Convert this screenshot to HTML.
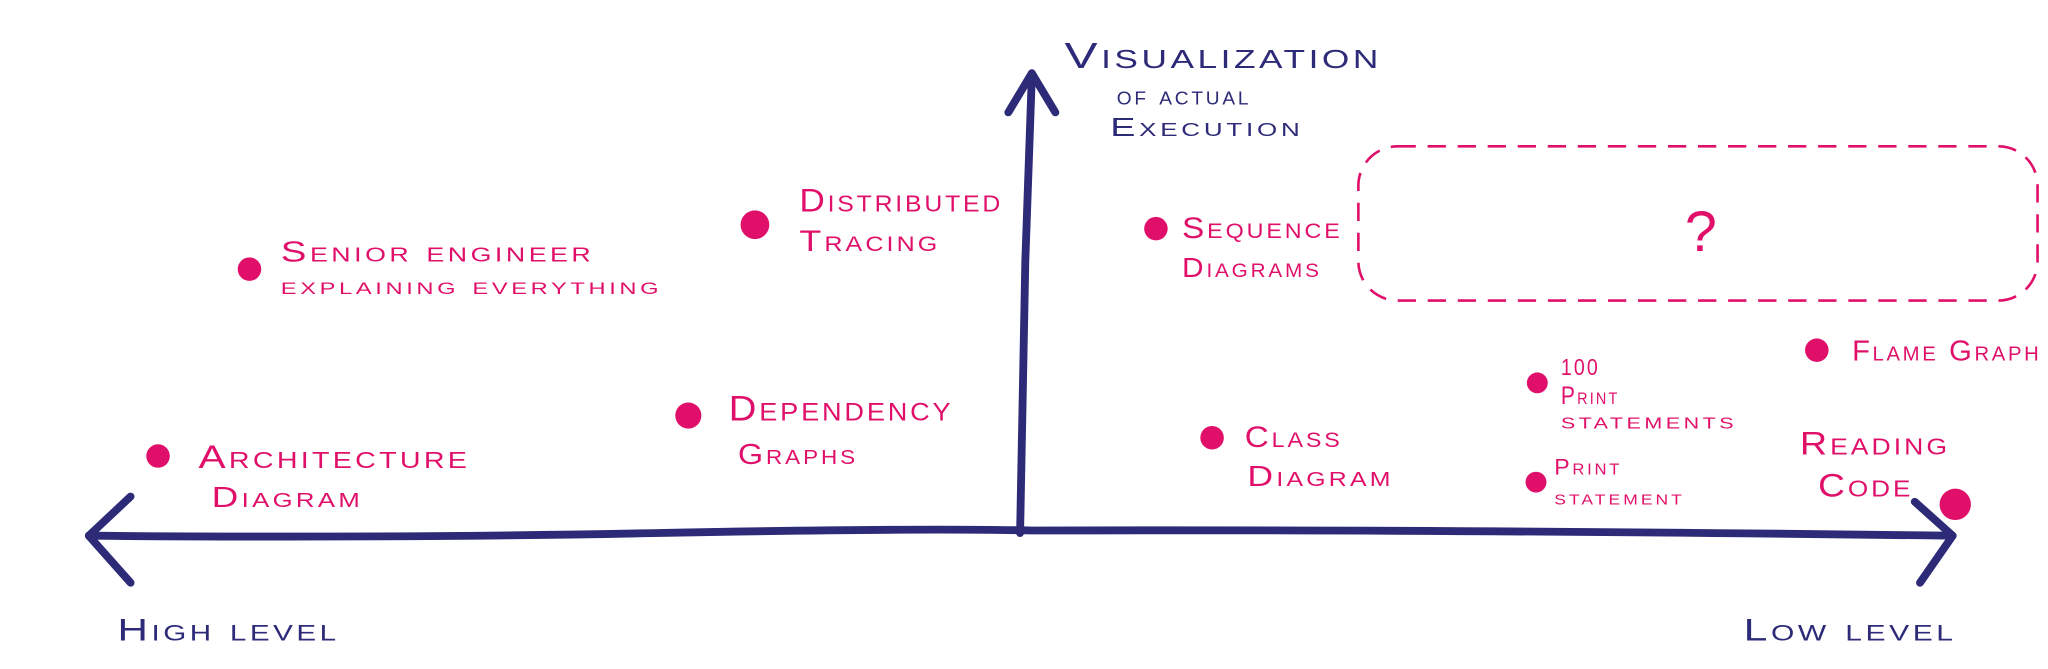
<!DOCTYPE html>
<html><head><meta charset="utf-8"><style>
html,body{margin:0;padding:0;background:#fff;}
svg{display:block}
text{font-family:"Liberation Sans",sans-serif;font-variant:small-caps;letter-spacing:2px;}
.n{fill:#2d2a78;}
.p{fill:#e0106a;}
</style></head><body>
<svg width="2048" height="669" viewBox="0 0 1568 512" preserveAspectRatio="none" xmlns="http://www.w3.org/2000/svg">
<g stroke="#2d2a78" stroke-width="6" fill="none" stroke-linecap="round" stroke-linejoin="round">
<path d="M68,410 Q300,412 500,408 T790,406 Q1100,405 1495,410"/>
<path d="M100,380 L68,410 L100,446"/>
<path d="M1466,384 L1495,410 L1470,446"/>
<path d="M781,408 L785,200 L790,58"/>
<path d="M772,86 L790,56 L808,86"/>
</g>
<rect x="1040" y="112" width="520" height="118" rx="30" fill="none" stroke="#e0106a" stroke-width="2" stroke-dasharray="14,9"/>
<text x="1290" y="192" class="p" font-size="44" style="font-variant:normal">?</text>
<g class="n" lengthAdjust="spacingAndGlyphs">
<text x="815" y="52" font-size="28" textLength="243" lengthAdjust="spacingAndGlyphs">Visualization</text>
<text x="855" y="80" font-size="20" textLength="103" lengthAdjust="spacingAndGlyphs">of actual</text>
<text x="850" y="104" font-size="20" textLength="148" lengthAdjust="spacingAndGlyphs">Execution</text>
<text x="90" y="490" font-size="24" textLength="170" lengthAdjust="spacingAndGlyphs">High level</text>
<text x="1335" y="490" font-size="24" textLength="163" lengthAdjust="spacingAndGlyphs">Low level</text>
</g>
<g class="p">
<circle cx="191" cy="206" r="9"/>
<text x="215" y="200" font-size="22" textLength="240" lengthAdjust="spacingAndGlyphs">Senior engineer</text>
<text x="215" y="225" font-size="19" textLength="292" lengthAdjust="spacingAndGlyphs">explaining everything</text>
<circle cx="578" cy="172" r="11"/>
<text x="612" y="162" font-size="25" textLength="156" lengthAdjust="spacingAndGlyphs">Distributed</text>
<text x="612" y="192" font-size="23" textLength="108" lengthAdjust="spacingAndGlyphs">Tracing</text>
<circle cx="885" cy="175" r="9"/>
<text x="905" y="182" font-size="23" textLength="123" lengthAdjust="spacingAndGlyphs">Sequence</text>
<text x="905" y="212" font-size="21" textLength="107" lengthAdjust="spacingAndGlyphs">Diagrams</text>
<circle cx="121" cy="349" r="9"/>
<text x="152" y="358" font-size="25" textLength="208" lengthAdjust="spacingAndGlyphs">Architecture</text>
<text x="162" y="388" font-size="22" textLength="116" lengthAdjust="spacingAndGlyphs">Diagram</text>
<circle cx="527" cy="318" r="10"/>
<text x="558" y="322" font-size="27" textLength="172" lengthAdjust="spacingAndGlyphs">Dependency</text>
<text x="565" y="355" font-size="22" textLength="92" lengthAdjust="spacingAndGlyphs">Graphs</text>
<circle cx="928" cy="335" r="9"/>
<text x="953" y="342" font-size="23" textLength="75" lengthAdjust="spacingAndGlyphs">Class</text>
<text x="955" y="372" font-size="22" textLength="112" lengthAdjust="spacingAndGlyphs">Diagram</text>
<circle cx="1177" cy="293" r="8"/>
<text x="1195" y="287" font-size="18" textLength="30" lengthAdjust="spacingAndGlyphs">100</text>
<text x="1195" y="309" font-size="19" textLength="45" lengthAdjust="spacingAndGlyphs">Print</text>
<text x="1195" y="328" font-size="17" textLength="135" lengthAdjust="spacingAndGlyphs">statements</text>
<circle cx="1176" cy="369" r="8"/>
<text x="1190" y="363" font-size="17" textLength="52" lengthAdjust="spacingAndGlyphs">Print</text>
<text x="1190" y="386" font-size="16" textLength="100" lengthAdjust="spacingAndGlyphs">statement</text>
<circle cx="1391" cy="268" r="9"/>
<text x="1418" y="276" font-size="22" textLength="145" lengthAdjust="spacingAndGlyphs">Flame Graph</text>
<text x="1378" y="348" font-size="25" textLength="115" lengthAdjust="spacingAndGlyphs">Reading</text>
<text x="1392" y="380" font-size="25" textLength="73" lengthAdjust="spacingAndGlyphs">Code</text>
<circle cx="1497" cy="386" r="12"/>
</g>
</svg>
</body></html>
